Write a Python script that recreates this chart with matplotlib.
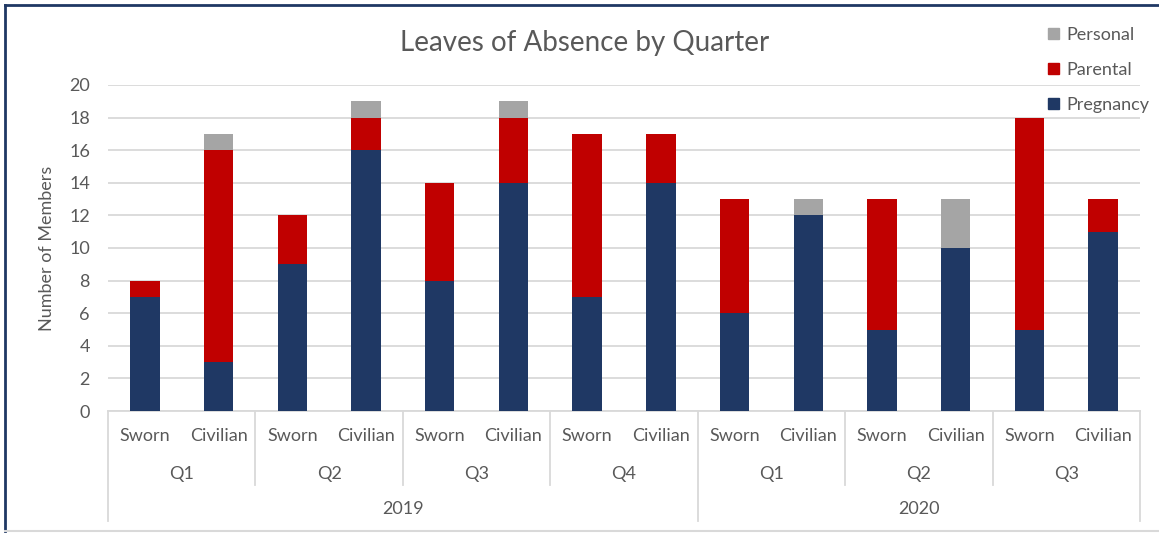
import matplotlib
matplotlib.use("Agg")
import matplotlib.pyplot as plt
from matplotlib.patches import Patch
from matplotlib.lines import Line2D
import matplotlib.transforms as mtransforms

plt.rcParams['font.family'] = ['Lato', 'DejaVu Sans']

# Data
years = ["2019", "2020"]
quarters = ["Q1", "Q2", "Q3", "Q4", "Q1", "Q2", "Q3"]
quarter_years = [0, 0, 0, 0, 1, 1, 1]
member_types = ["Sworn", "Civilian"]

pregnancy = [7, 3, 9, 16, 8, 14, 7, 14, 6, 12, 5, 10, 5, 11]
parental = [1, 13, 3, 2, 6, 4, 10, 3, 7, 0, 8, 0, 13, 2]
personal = [0, 1, 0, 1, 0, 1, 0, 0, 0, 1, 0, 3, 0, 0]

c_preg = "#1F3864"
c_par = "#C00000"
c_pers = "#A5A5A5"
txt = "#595959"
line_c = "#D9D9D9"
fs = 13

W, H = 1159, 533
fig = plt.figure(figsize=(W / 100, H / 100), dpi=100)
left, right, bottom, top = 108, 1140, 411, 85
ax = fig.add_axes([left / W, (H - bottom) / H, (right - left) / W, (bottom - top) / H])

n = len(pregnancy)
x = list(range(n))
bw = 0.4
ax.bar(x, pregnancy, bw, color=c_preg, zorder=3)
base2 = pregnancy
ax.bar(x, parental, bw, bottom=base2, color=c_par, zorder=3)
base3 = [a + b for a, b in zip(pregnancy, parental)]
ax.bar(x, personal, bw, bottom=base3, color=c_pers, zorder=3)

ax.set_xlim(-0.5, n - 0.5)
ax.set_ylim(0, 20)
ax.set_yticks(range(0, 21, 2))
ax.yaxis.grid(True, color=line_c, linewidth=1.3, zorder=0)
ax.set_axisbelow(True)
for s in ["top", "right", "left"]:
    ax.spines[s].set_visible(False)
ax.spines["bottom"].set_color(line_c)
ax.spines["bottom"].set_linewidth(1.3)
ax.tick_params(axis="y", length=0, labelsize=fs, labelcolor=txt, pad=13)
ax.tick_params(axis="x", length=0, labelbottom=False)
ax.set_ylabel("Number of Members", fontsize=fs, color=txt, labelpad=10)

# Multi-level category axis
ph = bottom - top
trans = mtransforms.blended_transform_factory(ax.transData, ax.transAxes)
for i in x:
    ax.text(i, -25 / ph, member_types[i % 2], transform=trans, ha="center", va="center",
            fontsize=fs, color=txt)
for qi, q in enumerate(quarters):
    ax.text(2 * qi + 0.5, -63 / ph, q, transform=trans, ha="center", va="center",
            fontsize=fs, color=txt)
year_bounds = []
for yi, yr in enumerate(years):
    idx = [2 * qi for qi, qy in enumerate(quarter_years) if qy == yi]
    lo, hi = min(idx) - 0.5, max(idx) + 1.5
    year_bounds.append((lo, hi))
    ax.text((lo + hi) / 2, -98 / ph, yr, transform=trans, ha="center", va="center",
            fontsize=fs, color=txt)

year_edges = {lo for lo, hi in year_bounds} | {hi for lo, hi in year_bounds}
for qi in range(len(quarters) + 1):
    xe = 2 * qi - 0.5
    depth = -110 / ph if xe in year_edges else -74 / ph
    ax.add_line(Line2D([xe, xe], [0, depth], transform=trans, color=line_c,
                       linewidth=1.3, clip_on=False))

fig.text(585 / W, 1 - 43 / H, "Leaves of Absence by Quarter", fontsize=20, color=txt,
         ha="center", va="center")

handles = [Patch(color=c_pers, label="Personal"),
           Patch(color=c_par, label="Parental"),
           Patch(color=c_preg, label="Pregnancy")]
fig.legend(handles=handles, loc="upper left", bbox_to_anchor=(1039 / W, 1 - 18 / H),
           frameon=False, fontsize=fs, labelcolor=txt, handlelength=0.6,
           handleheight=0.6, handletextpad=0.4, labelspacing=1.05, borderpad=0)

# Chart border
fig.add_artist(Line2D([5 / W, 1], [1 - 5 / H, 1 - 5 / H], transform=fig.transFigure,
                      color="#1F3864", linewidth=2))
fig.add_artist(Line2D([5 / W, 5 / W], [1 - 5 / H, 2 / H], transform=fig.transFigure,
                      color="#1F3864", linewidth=2))
fig.add_artist(Line2D([5 / W, 1], [2 / H, 2 / H], transform=fig.transFigure,
                      color=line_c, linewidth=1.5))

fig.savefig("out.png", dpi=100)
